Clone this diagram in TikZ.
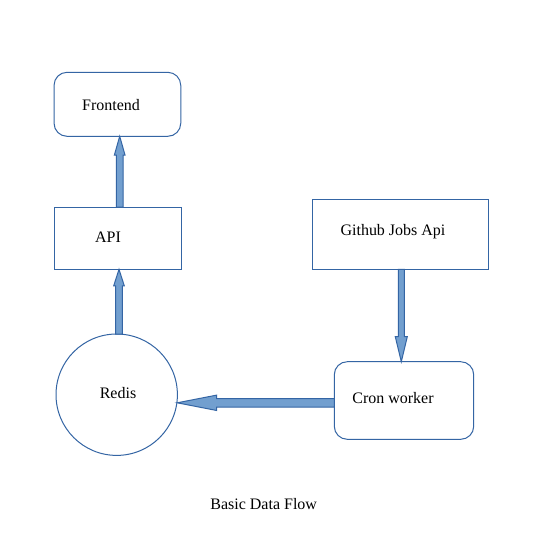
\documentclass[tikz,border=0pt]{standalone}
\usepackage{fontspec}
\setmainfont{Liberation Serif}
\usetikzlibrary{calc}
\definecolor{lineblue}{HTML}{3465A4}
\definecolor{fillblue}{HTML}{729FCF}
\newcommand\vblock[5]{\draw[barrow] (#1) -- ($(#1)+(#4,#5)$) -- ($(#1)+(#3,#5)$) -- ($(#2)+(#3,0)$) -- ($(#2)+(-#3,0)$) -- ($(#1)+(-#3,#5)$) -- ($(#1)+(-#4,#5)$) -- cycle;}
\newcommand\hblock[5]{\draw[barrow] (#1) -- ($(#1)+(#5,#4)$) -- ($(#1)+(#5,#3)$) -- ($(#2)+(0,#3)$) -- ($(#2)+(0,-#3)$) -- ($(#1)+(#5,-#3)$) -- ($(#1)+(#5,-#4)$) -- cycle;}
\begin{document}
\begin{tikzpicture}[x=1pt,y=-1pt,
  box/.style={draw=lineblue, line width=1pt, inner sep=0pt, outer sep=0pt, rectangle},
  rbox/.style={box, rounded corners=13pt},
  circ/.style={draw=lineblue, line width=1pt, inner sep=0pt, outer sep=0pt, circle, minimum size=121.4pt},
  lbl/.style={font=\fontsize{16}{19}\selectfont, inner sep=0pt},
  barrow/.style={draw=lineblue, fill=fillblue, line width=1pt, line join=miter}]
\useasboundingbox (0,0) rectangle (550,550);
\fill[white] (0,0) rectangle (550,550);
% shapes
\node[rbox, minimum width=126.7pt, minimum height=64pt] (frontend) at (117.4,104.3) {};
\node[box, minimum width=127.7pt, minimum height=62.3pt] (api) at (117.9,238.2) {};
\node[circ] (redis) at (116.7,394.7) {};
\node[box, minimum width=176.4pt, minimum height=70pt] (github) at (400.5,234.3) {};
\node[rbox, minimum width=139.4pt, minimum height=77.6pt] (cron) at (404,400.5) {};
% labels
\node[lbl] (tfront) at (111,105) {Frontend};
\node[lbl] (tapi) at (108,237) {API};
\node[lbl] (tredis) at (118,393) {Redis};
\node[lbl] (tgit) at (393,232) {Github Jobs Api};
\node[lbl] (tcron) at (393,398) {Cron worker};
\node[lbl] (caption) at (263.7,504) {Basic Data Flow};
% arrows
\coordinate (x1) at (119.7,0);
\coordinate (x2) at (119,0);
\coordinate (x3) at (401.3,0);
\coordinate (y4) at (0,402.8);
\coordinate (a1t) at (x1 |- frontend.south);
\coordinate (a1b) at (x1 |- api.north);
\coordinate (a2t) at (x2 |- api.south);
\coordinate (a2b) at (119,334);
\coordinate (a3t) at (x3 |- cron.north);
\coordinate (a3b) at (x3 |- github.south);
\coordinate (a4t) at (177.2,402.8);
\coordinate (a4b) at (y4 -| cron.west);
\vblock{a1t}{a1b}{3.3}{5.3}{18.7}
\vblock{a2t}{a2b}{3.3}{5.3}{16.5}
\vblock{a3t}{a3b}{3}{6}{-25}
\hblock{a4t}{a4b}{4.3}{7.7}{39.5}
\end{tikzpicture}
\end{document}
